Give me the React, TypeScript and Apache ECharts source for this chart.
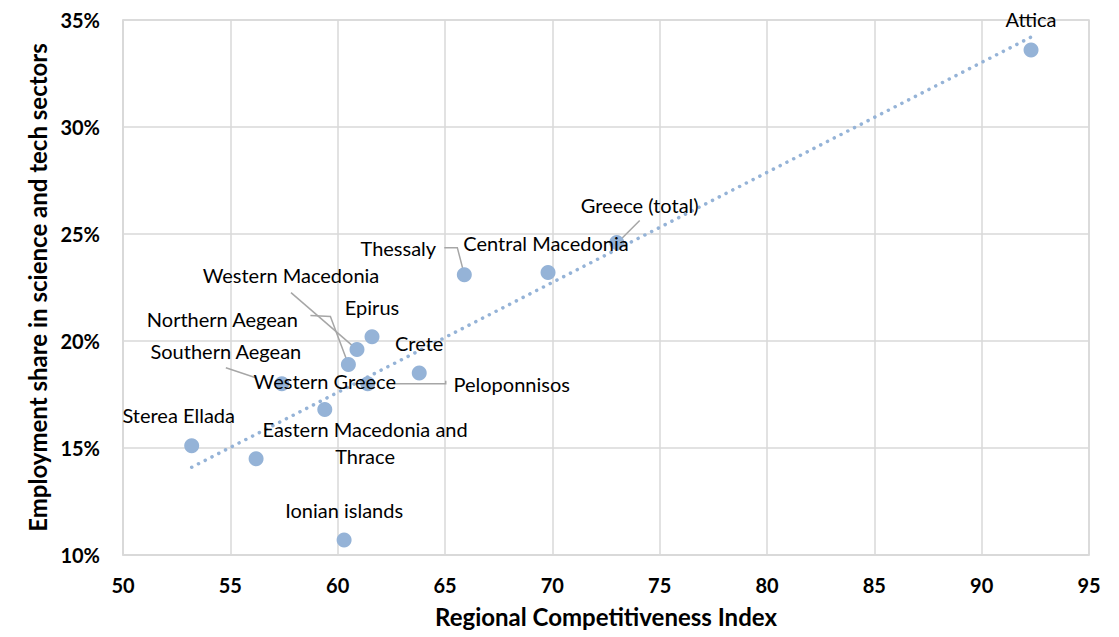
import React, { useEffect, useRef } from "react";
import * as echarts from "echarts";

// ---- Data ----
const regions = [
  "Attica",
  "Greece (total)",
  "Central Macedonia",
  "Thessaly",
  "Epirus",
  "Western Macedonia",
  "Northern Aegean",
  "Crete",
  "Southern Aegean",
  "Peloponnisos",
  "Western Greece",
  "Sterea Ellada",
  "Eastern Macedonia and\nThrace",
  "Ionian islands",
];
const competitivenessIndex = [92.3, 73.0, 69.8, 65.9, 61.6, 60.9, 60.5, 63.8, 57.4, 61.4, 59.4, 53.2, 56.2, 60.3];
const stemEmploymentShare = [33.6, 24.6, 23.2, 23.1, 20.2, 19.6, 18.9, 18.5, 18.0, 18.0, 16.8, 15.1, 14.5, 10.7];

// trendline endpoints (as drawn in the reference)
const trendX = [53.2, 92.3];
const trendY = [14.1, 34.2];

const xAxisTitle = "Regional Competitiveness Index";
const yAxisTitle = "Employment share in science and tech sectors";

// ---- Label placement (style only: pixel offsets of label centre from the point) ----
const labelOffsets: [number, number][] = [
  [0, -31],
  [23, -38],
  [-2, -30],
  [-66, -27],
  [0, -30],
  [-66, -75],
  [-126, -46],
  [0, -30],
  [-56, -33],
  [144, 0],
  [0, -28],
  [-13, -31],
  [109, -16],
  [0, -30],
];
// leader-line shapes, as pixel offsets from the point centre (style only)
const leaderShapes: (number[][] | null)[] = [
  null,
  [[23, -22], [3, -2]],
  null,
  [[-20, -27], [-7, -27], [0, 0]],
  null,
  [[-66, -57], [0, 0]],
  [[-38, -49], [-18, -48], [0, 0]],
  null,
  [[-56, -16], [-26, -6]],
  [[78, -3], [78, 0], [26, 0]],
  null,
  null,
  null,
  null,
];

const POINT = "#95B3D7";
const GRID = "#D9D9D9";
const LEADER = "#A6A6A6";
const FONT = "Lato";

export default function App() {
  const ref = useRef<HTMLDivElement>(null);
  useEffect(() => {
    if (!ref.current) return;
    const chart = echarts.init(ref.current, undefined, { renderer: "svg" });
    const points = regions.map((name, i) => ({
      name,
      value: [competitivenessIndex[i], stemEmploymentShare[i]],
    }));
    chart.setOption({
      animation: false,
      backgroundColor: "#ffffff",
      grid: {
        left: 123,
        right: 30,
        top: 20,
        bottom: 82,
        show: true,
        borderColor: GRID,
        borderWidth: 1.5,
      },
      xAxis: {
        type: "value",
        min: 50,
        max: 95,
        interval: 5,
        name: xAxisTitle,
        nameLocation: "middle",
        nameGap: 49,
        nameTextStyle: { fontFamily: FONT, fontWeight: "bold", fontSize: 24, color: "#000" },
        axisLine: { show: true, lineStyle: { color: GRID, width: 1.5 } },
        axisTick: { show: false },
        splitLine: { show: true, lineStyle: { color: GRID, width: 1.5 } },
        axisLabel: { fontFamily: FONT, fontWeight: "bold", fontSize: 20, color: "#000", margin: 20 },
      },
      yAxis: {
        type: "value",
        min: 10,
        max: 35,
        interval: 5,
        name: yAxisTitle,
        nameLocation: "middle",
        nameGap: 74,
        nameTextStyle: { fontFamily: FONT, fontWeight: "bold", fontSize: 24, color: "#000" },
        axisLine: { show: true, lineStyle: { color: GRID, width: 1.5 } },
        axisTick: { show: false },
        splitLine: { show: true, lineStyle: { color: GRID, width: 1.5 } },
        axisLabel: {
          fontFamily: FONT,
          fontWeight: "bold",
          fontSize: 20,
          color: "#000",
          margin: 23,
          formatter: (v: number) => `${v}%`,
        },
      },
      series: [
        {
          type: "line",
          data: trendX.map((x, i) => [x, trendY[i]]),
          symbol: "none",
          lineStyle: { color: POINT, width: 3.5, type: [0.1, 7.5], cap: "round" },
          silent: true,
          z: 1,
        },
        {
          type: "custom",
          data: points,
          silent: true,
          z: 2,
          renderItem: (params: any, api: any) => {
            const shape = leaderShapes[params.dataIndex];
            if (!shape) return { type: "group", children: [] };
            const c = api.coord([api.value(0), api.value(1)]);
            return {
              type: "polyline",
              shape: { points: shape.map((p) => [c[0] + p[0], c[1] + p[1]]) },
              style: { stroke: LEADER, lineWidth: 1.5, fill: "none" },
            };
          },
        },
        {
          type: "scatter",
          data: points,
          symbolSize: 15,
          itemStyle: { color: POINT, opacity: 1 },
          z: 3,
          label: {
            show: true,
            position: "inside",
            formatter: "{b}",
            fontFamily: FONT,
            fontSize: 20,
            color: "#000",
            align: "center",
            verticalAlign: "middle",
            lineHeight: 27,
          },
          labelLayout: (params: any) => {
            const o = labelOffsets[params.dataIndex];
            return { dx: o[0], dy: o[1] };
          },
        },
      ],
    });
    return () => chart.dispose();
  }, []);
  return (
    <div
      ref={ref}
      style={{ position: "absolute", left: 0, top: 0, width: 1119, height: 637 }}
    />
  );
}
